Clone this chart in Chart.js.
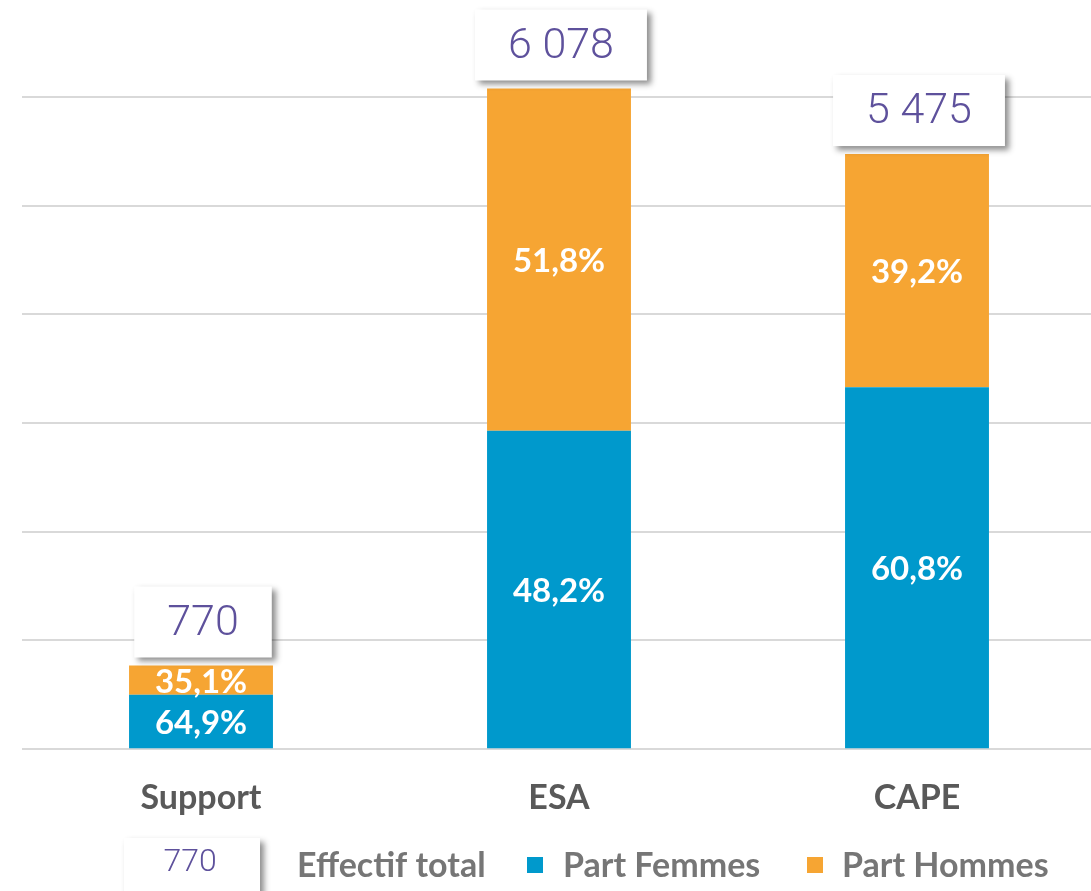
<!DOCTYPE html>
<html>
<head>
<meta charset="utf-8">
<script src="https://cdn.jsdelivr.net/npm/chart.js@4.4.0/dist/chart.umd.min.js"></script>
<style>
  html, body { margin: 0; padding: 0; background: #ffffff; overflow: hidden; }
  #wrap { position: absolute; left: 0; top: 0; width: 1100px; height: 891px; }
</style>
</head>
<body>
<div id="wrap"><canvas id="c" width="1100" height="891"></canvas></div>
<script>
// ---- data ----
const categories = ['Support', 'ESA', 'CAPE'];
const totals = [770, 6078, 5475];
const totalLabels = ['770', '6 078', '5 475'];
const femmes = [500, 2930, 3329];
const hommes = [270, 3148, 2146];
const femmesPct = ['64,9%', '48,2%', '60,8%'];
const hommesPct = ['35,1%', '51,8%', '39,2%'];
const yTicks = [0, 1000, 2000, 3000, 4000, 5000, 6000];
const legendTotalLabel = '770';
const legendLabels = ['Effectif total', 'Part Femmes', 'Part Hommes'];

const BLUE = '#0099CC';
const ORANGE = '#F6A533';
const PURPLE = '#5E519C';
const LABEL_FONT = 'Lato, "Open Sans", sans-serif';
const NUM_FONT = 'Roboto, Lato, sans-serif';

function drawShadowBox(ctx, x, y, w, h) {
  ctx.save();
  ctx.shadowColor = 'rgba(0,0,0,0.45)';
  ctx.shadowBlur = 6;
  ctx.shadowOffsetX = 4;
  ctx.shadowOffsetY = 4;
  ctx.fillStyle = '#ffffff';
  ctx.fillRect(x, y, w, h);
  ctx.restore();
}

const labelPlugin = {
  id: 'labels',
  afterDatasetsDraw(chart) {
    const ctx = chart.ctx;
    const pctSets = [femmesPct, hommesPct];
    ctx.save();
    ctx.fillStyle = '#ffffff';
    ctx.font = 'bold 33px ' + LABEL_FONT;
    ctx.textAlign = 'center';
    ctx.textBaseline = 'middle';
    [0, 1].forEach(di => {
      const meta = chart.getDatasetMeta(di);
      meta.data.forEach((bar, i) => {
        const p = bar.getProps(['x', 'y', 'base'], true);
        ctx.fillText(pctSets[di][i], p.x, (p.y + p.base) / 2 + 2);
      });
    });
    ctx.restore();
    const topMeta = chart.getDatasetMeta(1);
    topMeta.data.forEach((bar, i) => {
      const p = bar.getProps(['x', 'y'], true);
      ctx.save();
      ctx.font = '300 43px ' + NUM_FONT;
      const tw = ctx.measureText(totalLabels[i]).width;
      const w = tw + 66, h = 71;
      const cx = p.x + 2;
      const bottom = p.y - 8;
      drawShadowBox(ctx, cx - w / 2, bottom - h, w, h);
      ctx.fillStyle = PURPLE;
      ctx.textAlign = 'center';
      ctx.textBaseline = 'middle';
      ctx.fillText(totalLabels[i], cx, bottom - h / 2 + 2);
      ctx.restore();
    });
  },
  afterDraw(chart) {
    const ctx = chart.ctx;
    ctx.save();
    drawShadowBox(ctx, 124, 838, 136, 70);
    ctx.fillStyle = PURPLE;
    ctx.font = '300 32px ' + NUM_FONT;
    ctx.textAlign = 'center';
    ctx.textBaseline = 'middle';
    ctx.fillText(legendTotalLabel, 190, 863);
    ctx.font = 'bold 34px ' + LABEL_FONT;
    ctx.textAlign = 'left';
    ctx.fillStyle = '#767676';
    ctx.fillText(legendLabels[0], 297, 866);
    ctx.fillStyle = BLUE;
    ctx.fillRect(527, 857, 16, 16);
    ctx.fillStyle = '#767676';
    ctx.fillText(legendLabels[1], 563, 866);
    ctx.fillStyle = ORANGE;
    ctx.fillRect(807, 857, 16, 16);
    ctx.fillStyle = '#767676';
    ctx.fillText(legendLabels[2], 842, 866);
    ctx.restore();
  }
};

new Chart(document.getElementById('c'), {
  type: 'bar',
  data: {
    labels: categories,
    datasets: [
      { label: legendLabels[1], data: femmes, backgroundColor: BLUE, borderWidth: 0 },
      { label: legendLabels[2], data: hommes, backgroundColor: ORANGE, borderWidth: 0 }
    ]
  },
  options: {
    responsive: false,
    animation: false,
    devicePixelRatio: 1,
    layout: { padding: { left: 22, right: 4, top: 0, bottom: 45 } },
    plugins: { legend: { display: false }, tooltip: { enabled: false } },
    datasets: { bar: { barPercentage: 1, categoryPercentage: 0.402 } },
    scales: {
      x: {
        stacked: true,
        grid: { display: false, drawTicks: false },
        border: { display: false },
        ticks: {
          color: '#595959',
          padding: 28,
          font: { family: LABEL_FONT, size: 34, weight: 'bold' }
        }
      },
      y: {
        stacked: true,
        min: 0,
        max: 6892,
        afterBuildTicks(scale) { scale.ticks = yTicks.map(v => ({ value: v })); },
        ticks: { display: false },
        grid: { color: '#D9D9D9', lineWidth: 2, drawTicks: false },
        border: { display: false }
      }
    }
  },
  plugins: [labelPlugin]
});
</script>
</body>
</html>
